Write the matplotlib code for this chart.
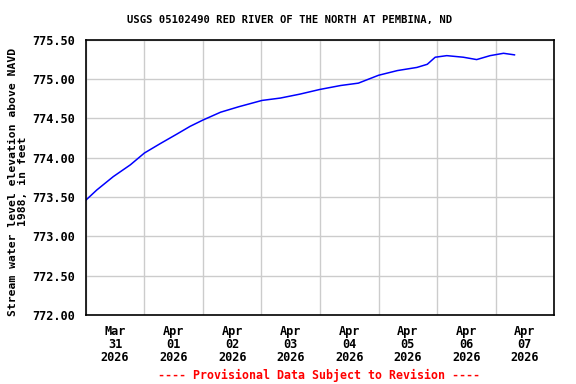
import matplotlib
matplotlib.use("Agg")
import matplotlib.pyplot as plt
import matplotlib.dates as mdates
import pandas as pd

times = ["2026-03-31 00:00", "2026-03-31 04:30", "2026-03-31 11:15", "2026-03-31 18:15",
         "2026-04-01 00:00", "2026-04-01 06:30", "2026-04-01 13:15", "2026-04-01 18:45",
         "2026-04-02 00:00", "2026-04-02 07:15", "2026-04-02 14:45", "2026-04-03 00:15",
         "2026-04-03 07:45", "2026-04-03 15:45", "2026-04-04 00:00", "2026-04-04 08:30",
         "2026-04-04 15:45", "2026-04-05 00:00", "2026-04-05 07:45", "2026-04-05 15:45",
         "2026-04-05 20:00", "2026-04-05 23:15", "2026-04-06 04:00", "2026-04-06 10:45",
         "2026-04-06 16:15", "2026-04-06 21:45", "2026-04-07 03:15", "2026-04-07 07:45"]
values = [773.46, 773.59, 773.76, 773.91,
          774.06, 774.18, 774.30, 774.40,
          774.48, 774.58, 774.65, 774.73,
          774.76, 774.81, 774.87, 774.92,
          774.95, 775.05, 775.11, 775.15,
          775.19, 775.28, 775.30, 775.28,
          775.25, 775.30, 775.33, 775.31]
yticks = [772.0, 772.5, 773.0, 773.5, 774.0, 774.5, 775.0, 775.5]
title = "USGS 05102490 RED RIVER OF THE NORTH AT PEMBINA, ND"
ylabel = "Stream water level elevation above NAVD\n1988, in feet"
footer = "---- Provisional Data Subject to Revision ----"

t = pd.to_datetime(times)
font = "DejaVu Sans Mono"

fig = plt.figure(figsize=(5.76, 3.84), dpi=100)
ax = fig.add_axes([0.149, 0.180, 0.813, 0.716])
ax.plot(t, values, color="#0000ff", lw=1.1)

ax.set_xlim(pd.Timestamp("2026-03-31"), pd.Timestamp("2026-04-08"))
ax.set_ylim(772.0, 775.5)
ax.set_yticks(yticks)
ax.set_yticklabels([f"{v:.2f}" for v in yticks], fontfamily=font, fontweight="bold", fontsize=8.6)

ax.xaxis.set_major_locator(mdates.DayLocator())
ax.xaxis.set_major_formatter(plt.NullFormatter())
ax.xaxis.set_minor_locator(mdates.HourLocator(byhour=[12]))
ax.xaxis.set_minor_formatter(mdates.DateFormatter("%b\n%d\n%Y"))
ax.tick_params(axis="x", which="both", length=0, pad=7)
ax.tick_params(axis="y", length=0, pad=8)
for lab in ax.get_xticklabels(minor=True):
    lab.set_fontfamily(font)
    lab.set_fontweight("bold")
    lab.set_fontsize(8.6)
    lab.set_linespacing(1.02)

ax.grid(True, which="major", color="#cccccc", lw=1.0)
ax.set_axisbelow(True)
for s in ax.spines.values():
    s.set_linewidth(1.2)
    s.set_color("black")

ax.set_ylabel(ylabel, fontfamily=font, fontweight="bold", fontsize=8.2, linespacing=1.0, va="center")
ax.yaxis.set_label_coords(-0.145, 0.484)
fig.text(0.502, 0.948, title, ha="center", va="center", fontfamily=font, fontweight="bold", fontsize=7.6)
fig.text(0.553, 0.023, footer, ha="center", va="center", fontfamily=font, fontweight="bold",
         fontsize=8.4, color="#ff0000")

fig.savefig("out.png", dpi=100)
